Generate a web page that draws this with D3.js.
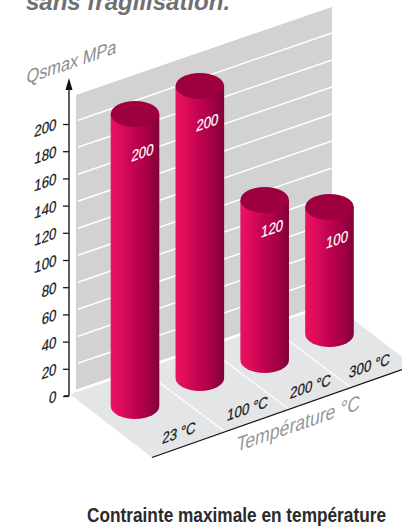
<!DOCTYPE html>
<html>
<head>
<meta charset="utf-8">
<script src="https://cdn.jsdelivr.net/npm/d3@7"></script>
<style>
html,body{margin:0;padding:0;background:#fff}
svg{display:block}
text{font-family:"Liberation Sans",Arial,sans-serif}
.axis path,.axis line{stroke:#1a1a1a}
</style>
</head>
<body>
<svg id="chart" width="402" height="528"></svg>
<script>
// Chart data
const categories = ["23 °C", "100 °C", "200 °C", "300 °C"];
const values = [200, 200, 120, 100];
const tickValues = [0, 20, 40, 60, 80, 100, 120, 140, 160, 180, 200];
const titleText = "sans fragilisation.";
const captionText = "Contrainte maximale en température";
const yAxisTitle = "Qsmax MPa";
const xAxisTitle = "Température °C";

const svg = d3.select("#chart");
const slope = -0.344;          // rise of the oblique depth axis
const shear = `skewY(${Math.atan(slope) * 180 / Math.PI})`;
const narrow = "scale(0.86,1) skewX(-7)";

// Scales
const axisY = d3.scaleLinear().domain([0, 200]).range([396, 124]);
const wallY = d3.scaleLinear().domain([0, 200]).range([391, 121]);
const wallX = d3.scaleLinear().domain([0, 1]).range([76, 332]);
const cx = d3.scalePoint().domain(categories).range([135, 329.5]);
const floorY = d3.scaleOrdinal().domain(categories).range([406, 378, 360, 334]);
const barHeight = d3.scaleLinear().domain([100, 200]).range([127, 292]);
const labelDrop = d3.scaleOrdinal().domain(categories).range([44, 42, 34, 38]);
const frontEdges = [152, 225, 289, 351, 407];   // where the floor bays meet the front edge
const rx = 24.3, ry = 13;

// Heading, running off the top of the page
svg.append("text").attr("x", 26).attr("y", 10)
  .attr("font-size", 24).attr("font-weight", 700).attr("font-style", "italic")
  .attr("fill", "#6f7072").text(titleText);

const line = d3.line();
const defs = svg.append("defs");
const grad = defs.append("linearGradient").attr("id", "cyl");
grad.selectAll("stop")
  .data([[0, "#ea1360"], [0.2, "#de0c5b"], [0.5, "#bf0350"], [0.75, "#a60047"], [1, "#82003a"]])
  .join("stop").attr("offset", d => d[0]).attr("stop-color", d => d[1]);

// Back wall
const wallTopGap = 391 - 95;
const wallRise = slope * (wallX(1) - wallX(0));
svg.append("path").attr("fill", "#d2d2d3")
  .attr("d", line([
    [wallX(0), wallY(0)],
    [wallX(0), wallY(0) - wallTopGap],
    [wallX(1), wallY(0) - wallTopGap + wallRise],
    [wallX(1), wallY(0) + wallRise]
  ]));

// Floor
const floorLeft = [71, 395], floorFront = [152, 457.5];
const frontY = x => floorFront[1] - 0.352 * (x - floorFront[0]);
svg.append("path").attr("fill", "#e4e5e6")
  .attr("d", line([floorLeft, floorFront, [402, frontY(402)], [402, 357], [wallX(1), wallY(0) + wallRise], [wallX(0), wallY(0)]]));

// Wall grid lines, including the thick base where wall meets floor
svg.append("g").selectAll("line").data(tickValues).join("line")
  .attr("x1", d => d === 0 ? wallX(0) : 78)
  .attr("x2", wallX(1))
  .attr("y1", d => wallY(d) + (d === 0 ? 0 : slope * (78 - wallX(0))))
  .attr("y2", d => wallY(d) + wallRise)
  .attr("stroke", "#fff").attr("stroke-width", d => d === 0 ? 2.5 : 1.5);

// Floor dividers between categories
svg.append("g").selectAll("line").data(frontEdges.slice(1, 4)).join("line")
  .attr("x1", d => d - 65).attr("y1", d => frontY(d) - 65 * 0.75)
  .attr("x2", d => d).attr("y2", d => frontY(d))
  .attr("stroke", "#fff").attr("stroke-width", 1.2);

// Front edge of the floor
svg.append("line").attr("x1", floorFront[0]).attr("y1", floorFront[1])
  .attr("x2", 402).attr("y2", frontY(402)).attr("stroke", "#111").attr("stroke-width", 1.3);

// Vertical axis
const axis = d3.axisLeft(axisY).tickValues(tickValues).tickSize(6).tickSizeOuter(0);
const axisG = svg.append("g").attr("class", "axis").attr("transform", "translate(69,0)").call(axis);
axisG.select(".domain").attr("d", "M0,396H-5M0,396V88").attr("stroke-width", 1.4).attr("fill", "none");
axisG.selectAll(".tick line").attr("stroke-width", 1.3);
axisG.selectAll(".tick text")
  .attr("x", null).attr("dy", null).style("text-anchor", "end")
  .attr("font-size", 15.5).attr("fill", "#1c1c1c")
  .attr("stroke", "#1c1c1c").attr("stroke-width", 0.25)
  .attr("transform", `translate(-13,5) ${shear} ${narrow}`);
svg.append("path").attr("d", "M69,78L65.5,90L72.5,90Z").attr("fill", "#111");

// Cylinders
const bars = svg.append("g").selectAll("g").data(values).join("g");
bars.append("path").attr("fill", "url(#cyl)")
  .attr("d", (v, i) => {
    const c = categories[i], x = cx(c), yb = floorY(c), yt = yb - barHeight(v);
    return `M${x - rx},${yt}V${yb}A${rx},${ry} 0 0 0 ${x + rx},${yb}V${yt}Z`;
  });
bars.append("ellipse").attr("fill", "#9e003f")
  .attr("cx", (v, i) => cx(categories[i]))
  .attr("cy", (v, i) => floorY(categories[i]) - barHeight(v))
  .attr("rx", rx).attr("ry", ry);

// Value labels on the cylinders
bars.append("text")
  .attr("text-anchor", "middle").attr("font-size", 15.5).attr("fill", "#fff")
  .attr("stroke", "#fff").attr("stroke-width", 0.2)
  .attr("transform", (v, i) => {
    const c = categories[i];
    return `translate(${cx(c) + 7},${floorY(c) - barHeight(v) + labelDrop(c)}) ${shear} ${narrow}`;
  })
  .text(v => v);

// Category labels on the floor, centred in each bay
svg.append("g").selectAll("text").data(categories).join("text")
  .attr("text-anchor", "middle").attr("font-size", 15.5).attr("fill", "#1c1c1c")
  .attr("stroke", "#1c1c1c").attr("stroke-width", 0.25)
  .attr("transform", (c, i) => {
    const x = (frontEdges[i] + frontEdges[i + 1]) / 2 - 10;
    return `translate(${x},${frontY(x) - 10}) ${shear} ${narrow}`;
  })
  .text(c => c);

// Axis titles
svg.append("text").attr("font-size", 19).attr("fill", "#8b8c8e")
  .attr("transform", `translate(26,84) ${shear} ${narrow}`).text(yAxisTitle);
svg.append("text").attr("font-size", 20.5).attr("fill", "#97989a")
  .attr("transform", `translate(236,452) ${shear} ${narrow}`).text(xAxisTitle);

// Caption
svg.append("text").attr("x", 87).attr("y", 522)
  .attr("font-size", 20).attr("font-weight", 700).attr("fill", "#2a2a2c")
  .style("font-family", '"Liberation Sans Narrow","Liberation Sans",sans-serif')
  .attr("textLength", 299).attr("lengthAdjust", "spacingAndGlyphs")
  .text(captionText);
</script>
</body>
</html>
